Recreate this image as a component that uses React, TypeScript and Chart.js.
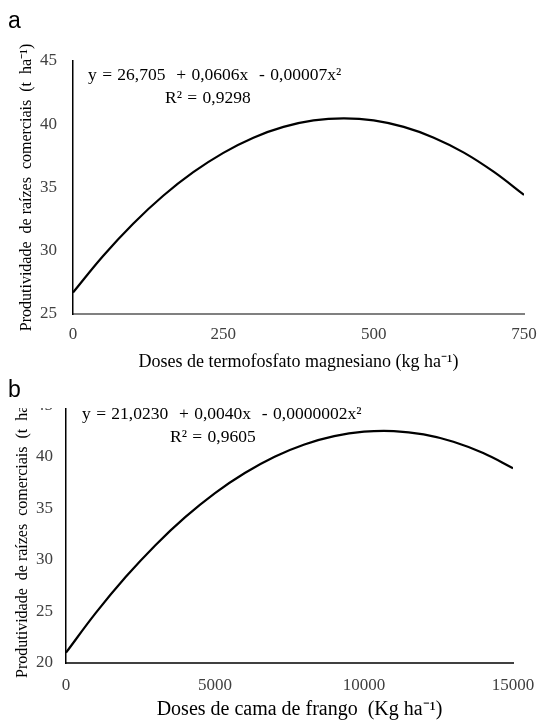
import React, { useEffect, useRef } from "react";
import { Chart, registerables } from "chart.js";

Chart.register(...registerables);

// Chart a: termofosfato magnesiano
const dosesA = [0, 50, 100, 150, 200, 250, 300, 350, 400, 450, 500, 550, 600, 650, 700, 750];
const prodA = [26.7, 29.59, 32.14, 34.35, 36.21, 37.74, 38.94, 39.79, 40.3, 40.47, 40.31, 39.79, 38.94, 37.76, 36.23, 34.41];
const yTicksA = [25, 30, 35, 40, 45];
const xTicksA = [0, 250, 500, 750];

// Chart b: cama de frango
const dosesB = [0, 1000, 2000, 3000, 4000, 5000, 6000, 7000, 8000, 9000, 10000, 11000, 12000, 13000, 14000, 15000];
const prodB = [21.0, 24.86, 28.34, 31.44, 34.16, 36.5, 38.45, 40.03, 41.22, 42.03, 42.46, 42.52, 42.19, 41.48, 40.38, 38.91];
const yTicksB = [20, 25, 30, 35, 40, 45];
const xTicksB = [0, 5000, 10000, 15000];

const yTitle = "Produtividade  de raízes  comerciais  (t  ha⁻¹)";
const xTitleA = "Doses de termofosfato magnesiano (kg ha⁻¹)";
const xTitleB = "\u00a0\u00a0\u00a0\u00a0Doses de cama de frango  (Kg ha⁻¹)";
const eqA = ["y = 26,705  + 0,0606x  - 0,00007x²", "R² = 0,9298"];
const eqB = ["y = 21,0230  + 0,0040x  - 0,0000002x²", "R² = 0,9605"];

const SERIF = "'Liberation Serif', 'Times New Roman', serif";

type Cfg = {
  xs: number[];
  ys: number[];
  yTicks: number[];
  xTicks: number[];
  xTitle: string;
  padTop: number;
  padBottom: number;
  padRight: number;
  yWidth: number;
  xHeight: number;
  xTickPad: number;
  yTickPad: number;
  yTitlePad: number;
  xTitleSize: number;
  xBorder: string;
};

function LineChart({ cfg, height }: { cfg: Cfg; height: number }) {
  const ref = useRef<HTMLCanvasElement | null>(null);
  useEffect(() => {
    if (!ref.current) return;
    const yMin = cfg.yTicks[0];
    const yMax = cfg.yTicks[cfg.yTicks.length - 1];
    const xMin = cfg.xTicks[0];
    const xMax = cfg.xTicks[cfg.xTicks.length - 1];
    const chart = new Chart(ref.current, {
      type: "line",
      data: {
        datasets: [
          {
            data: cfg.xs.map((x, i) => ({ x, y: cfg.ys[i] })),
            borderColor: "#000000",
            borderWidth: 2.2,
            pointRadius: 0,
            tension: 0.4,
            fill: false,
          },
        ],
      },
      options: {
        animation: false,
        responsive: false,
        maintainAspectRatio: false,
        devicePixelRatio: 1,
        layout: { padding: { top: cfg.padTop, bottom: cfg.padBottom, right: cfg.padRight, left: 0 } },
        plugins: { legend: { display: false }, tooltip: { enabled: false }, title: { display: false } },
        scales: {
          x: {
            type: "linear",
            min: xMin,
            max: xMax,
            grid: { display: false, drawTicks: false },
            border: { display: true, color: cfg.xBorder, width: 2 },
            afterBuildTicks: (s: any) => {
              s.ticks = cfg.xTicks.map((v) => ({ value: v }));
            },
            afterFit: (s: any) => {
              s.height = cfg.xHeight;
              s.paddingLeft = 0;
              s.paddingRight = 0;
            },
            ticks: {
              padding: cfg.xTickPad,
              color: "#404040",
              font: { family: SERIF, size: 17 },
              maxRotation: 0,
              autoSkip: false,
              callback: (v: any) => String(v),
            },
            title: {
              display: true,
              text: cfg.xTitle,
              color: "#000000",
              font: { family: SERIF, size: cfg.xTitleSize },
              padding: { top: 0, bottom: 0 },
            },
          },
          y: {
            type: "linear",
            min: yMin,
            max: yMax,
            grid: { display: false, drawTicks: false },
            border: { display: true, color: "#000000", width: 1.5 },
            afterBuildTicks: (s: any) => {
              s.ticks = cfg.yTicks.map((v) => ({ value: v }));
            },
            afterFit: (s: any) => {
              s.width = cfg.yWidth;
              s.paddingTop = 0;
              s.paddingBottom = 0;
            },
            ticks: {
              padding: cfg.yTickPad,
              color: "#404040",
              font: { family: SERIF, size: 17 },
              autoSkip: false,
              callback: (v: any) => String(v),
            },
            title: {
              display: true,
              text: yTitle,
              color: "#000000",
              font: { family: SERIF, size: 16 },
              padding: { top: cfg.yTitlePad, bottom: 0 },
            },
          },
        },
      },
    } as any);
    return () => chart.destroy();
  }, []);
  return <canvas ref={ref} width={537} height={height} style={{ display: "block", width: 537, height }} />;
}

const eqStyle: React.CSSProperties = {
  position: "absolute",
  fontFamily: SERIF,
  fontSize: 17.5,
  color: "#000",
  whiteSpace: "pre",
  lineHeight: "20px",
  wordSpacing: "1px",
};

const panelLabel: React.CSSProperties = {
  position: "absolute",
  fontFamily: "'Liberation Sans', Arial, sans-serif",
  fontSize: 23,
  color: "#000",
  lineHeight: "24px",
};

export default function App() {
  useEffect(() => {
    document.body.style.margin = "0";
  }, []);

  const cfgA: Cfg = {
    xs: dosesA,
    ys: prodA,
    yTicks: yTicksA,
    xTicks: xTicksA,
    xTitle: xTitleA,
    padTop: 61,
    padBottom: 7.2,
    padRight: 13,
    yWidth: 73,
    xHeight: 58.8,
    xTickPad: 10,
    yTickPad: 16,
    yTitlePad: 17,
    xTitleSize: 18,
    xBorder: "#808080",
  };
  const cfgB: Cfg = {
    xs: dosesB,
    ys: prodB,
    yTicks: yTicksB,
    xTicks: xTicksB,
    xTitle: xTitleB,
    padTop: 15.5,
    padBottom: 0,
    padRight: 24,
    yWidth: 66,
    xHeight: 59,
    xTickPad: 12,
    yTickPad: 13,
    yTitlePad: 13,
    xTitleSize: 20,
    xBorder: "#404040",
  };

  return (
    <div style={{ position: "relative", width: 537, height: 720, overflow: "hidden", background: "#fff" }}>
      <div style={{ position: "absolute", left: 0, top: 0 }}>
        <LineChart cfg={cfgA} height={380} />
      </div>
      <div style={{ position: "absolute", left: 0, top: 408, width: 537, height: 312, overflow: "hidden" }}>
        <div style={{ position: "absolute", left: 0, top: -18 }}>
          <LineChart cfg={cfgB} height={332} />
        </div>
      </div>
      <div style={{ ...panelLabel, left: 8, top: 8 }}>a</div>
      <div style={{ ...panelLabel, left: 8, top: 377 }}>b</div>
      <div style={{ ...eqStyle, left: 88, top: 64 }}>{eqA[0]}</div>
      <div style={{ ...eqStyle, left: 165, top: 87 }}>{eqA[1]}</div>
      <div style={{ ...eqStyle, left: 82, top: 403 }}>{eqB[0]}</div>
      <div style={{ ...eqStyle, left: 170, top: 426 }}>{eqB[1]}</div>
    </div>
  );
}
